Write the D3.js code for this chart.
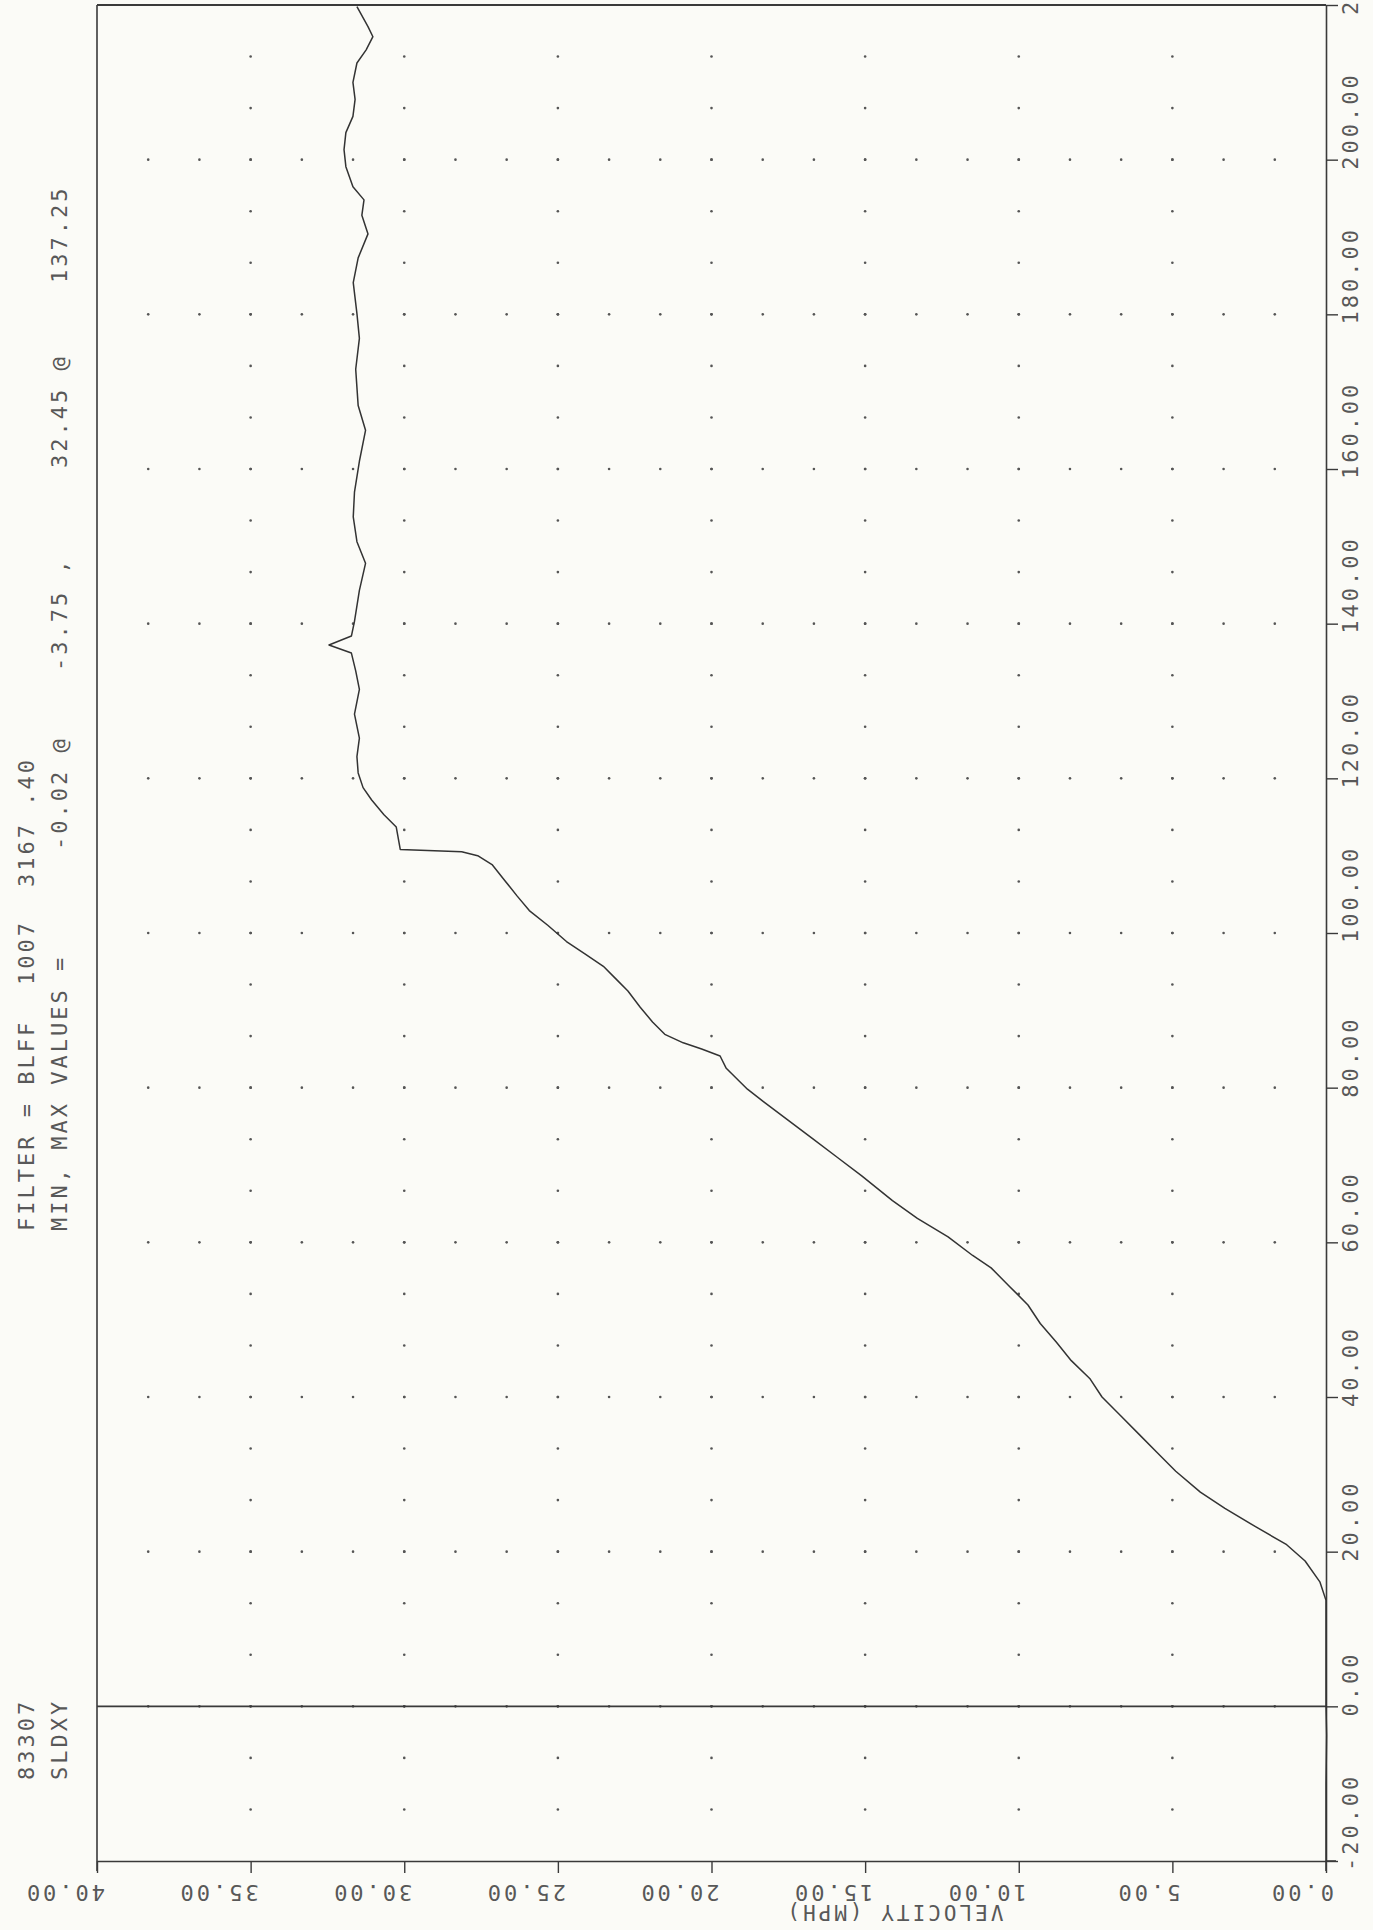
<!DOCTYPE html>
<html>
<head>
<meta charset="utf-8">
<script src="https://cdn.jsdelivr.net/npm/d3@7"></script>
<style>
  html, body { margin: 0; padding: 0; background: #fbfbf7; }
  svg { display: block; }
  .plot-text { font-family: "DejaVu Sans Mono", monospace; fill: #585858; }
</style>
</head>
<body>
<script>
// Time axis (vertical on the page) and velocity axis (horizontal, reversed)
const timeTicks = [-20, 0, 20, 40, 60, 80, 100, 120, 140, 160, 180, 200, 220];
const timeTickLabels = ["-20.00", "0.00", "20.00", "40.00", "60.00", "80.00", "100.00",
  "120.00", "140.00", "160.00", "180.00", "200.00", "220.00"];
const velocityTicks = [0, 5, 10, 15, 20, 25, 30, 35, 40];
const velocityTickLabels = ["0.00", "5.00", "10.00", "15.00", "20.00", "25.00", "30.00", "35.00", "40.00"];
const velocityTitle = "VELOCITY  (MPH)";

// Run header, printed sideways in two lines
const headerLine1 = ["83307", "FILTER = BLFF", "1007", "3167 .40"];
const headerLine2 = ["SLDXY", "MIN, MAX VALUES =", "-0.02 @", "-3.75 ,", "32.45 @", "137.25"];

// Velocity trace: time values and velocity (mph) at each time
const traceTime = [-20, -10, -3.75, 0, 8, 13.7, 16.1, 18.8, 20.9, 23.2, 25.6, 27.7, 30.4, 32.8, 35.2,
  37.6, 40.0, 42.4, 44.7, 47.1, 49.5, 51.9, 54.3, 56.7, 58.3, 60.7, 63.1, 65.4, 68.6, 71.0,
  73.4, 75.8, 78.2, 79.8, 80.9, 82.5, 84.1, 85.0, 85.8, 86.9, 88.5, 90.4, 92.5, 94.1, 95.7,
  97.3, 98.9, 101.0, 102.9, 104.8, 106.8, 108.8, 110.0, 110.5, 110.8, 113.7, 115.3, 117.2, 118.8,
  120.7, 122.8, 125.2, 128.3, 131.5, 133.9, 136.2, 137.25, 138.4, 140.3, 144.3, 147.8, 150.6, 153.8, 157.0,
  161.0, 165.0, 168.2, 172.9, 176.9, 180.1, 184.1, 187.3, 190.4, 192.8, 194.8, 196.5, 199.1,
  201.3, 203.5, 205.6, 207.8, 210.0, 212.5, 214.2, 215.9, 217.2, 219.8];
const traceVelocity = [0, 0, -0.02, 0, 0, 0, 0.2, 0.68, 1.28, 2.28, 3.29, 4.09, 4.89, 5.49, 6.09,
  6.69, 7.29, 7.69, 8.29, 8.78, 9.30, 9.70, 10.30, 10.90, 11.50, 12.30, 13.30, 14.11, 15.11, 15.91,
  16.71, 17.51, 18.31, 18.83, 19.11, 19.52, 19.72, 20.32, 20.92, 21.52, 21.92, 22.32, 22.72, 23.12, 23.52,
  24.12, 24.72, 25.33, 25.93, 26.33, 26.73, 27.13, 27.61, 28.13, 30.13, 30.26, 30.66, 31.06, 31.34,
  31.50, 31.54, 31.46, 31.62, 31.46, 31.58, 31.72, 32.45, 31.72, 31.62, 31.46, 31.26, 31.54, 31.66, 31.62,
  31.46, 31.26, 31.50, 31.58, 31.46, 31.54, 31.66, 31.50, 31.18, 31.38, 31.31, 31.67, 31.90,
  31.96, 31.90, 31.67, 31.60, 31.67, 31.54, 31.24, 31.02, 31.18, 31.54];

const W = 1373, H = 1930;
const svg = d3.select("body").append("svg").attr("width", W).attr("height", H);

const y = d3.scaleLinear().domain([-20, 220]).range([1861, 5]);
const x = d3.scaleLinear().domain([0, 40]).range([1326, 97]);

const ink = "#3a3a3a";

// Grid of plotter dots: minor time steps along each major velocity,
// minor velocity steps along each major time
const minorT = d3.range(-20, 220.001, 20 / 3);
const minorV = d3.range(0, 40.001, 5 / 3);
const dots = [];
velocityTicks.slice(1, -1).forEach(v => minorT.forEach(t => {
  if (t > -19.9 && t < 219.9) dots.push([v, t]);
}));
timeTicks.slice(1, -1).forEach(t => minorV.forEach(v => {
  if (v > 0.1 && v < 39.9) dots.push([v, t]);
}));
svg.append("g").selectAll("circle").data(dots).join("circle")
  .attr("cx", d => x(d[0])).attr("cy", d => y(d[1])).attr("r", 1.3).attr("fill", "#555");

// Frame: left edge and top edge
svg.append("line").attr("x1", x(40)).attr("x2", x(40)).attr("y1", y(220)).attr("y2", y(-20) + 10)
  .attr("stroke", ink).attr("stroke-width", 1.6);
svg.append("line").attr("x1", x(40)).attr("x2", x(0)).attr("y1", y(220)).attr("y2", y(220))
  .attr("stroke", ink).attr("stroke-width", 1.8);

// Time-zero reference line
svg.append("line").attr("x1", x(40)).attr("x2", x(0)).attr("y1", y(0)).attr("y2", y(0))
  .attr("stroke", ink).attr("stroke-width", 1.6);

// Right (time) axis
const rightAxis = svg.append("g").attr("transform", `translate(${x(0)},0)`)
  .call(d3.axisRight(y).tickValues(timeTicks).tickSize(12).tickSizeOuter(0).tickFormat(""));
// Bottom (velocity) axis
const bottomAxis = svg.append("g").attr("transform", `translate(0,${y(-20)})`)
  .call(d3.axisBottom(x).tickValues(velocityTicks).tickSize(12).tickSizeOuter(0).tickFormat(""));
[rightAxis, bottomAxis].forEach(g => {
  g.selectAll("path.domain").attr("stroke", ink).attr("stroke-width", 1.6);
  g.selectAll(".tick line").attr("stroke", ink).attr("stroke-width", 1.4);
});
// Extend axis lines slightly past the corner
svg.append("line").attr("x1", x(0)).attr("x2", x(0)).attr("y1", y(-20)).attr("y2", y(-20) + 10)
  .attr("stroke", ink).attr("stroke-width", 1.6);
svg.append("line").attr("x1", x(0)).attr("x2", x(0) + 10).attr("y1", y(-20)).attr("y2", y(-20))
  .attr("stroke", ink).attr("stroke-width", 1.6);

const fontSize = 22, spacing = 3;
const half = (fontSize * 0.602 + spacing) / 2;

// Time labels: read upward, first character on the tick
svg.append("g").selectAll("text").data(timeTicks).join("text")
  .attr("class", "plot-text")
  .attr("transform", t => `translate(${x(0) + 32},${y(t)}) rotate(-90)`)
  .attr("x", -half - 2).attr("y", 0)
  .attr("font-size", fontSize).attr("letter-spacing", spacing)
  .text((t, i) => timeTickLabels[i]);

// Velocity labels: printed upside down below the axis
svg.append("g").selectAll("text").data(velocityTicks).join("text")
  .attr("class", "plot-text")
  .attr("transform", v => `translate(${x(v)},${y(-20) + 24}) rotate(180)`)
  .attr("x", -half).attr("y", 0)
  .attr("font-size", fontSize).attr("letter-spacing", spacing)
  .text((v, i) => velocityTickLabels[i]);

// Velocity axis title, upside down
svg.append("text").attr("class", "plot-text")
  .attr("transform", `translate(${x(10.5)},${y(-20) + 44}) rotate(180)`)
  .attr("x", 0).attr("y", 0)
  .attr("font-size", fontSize - 1).attr("letter-spacing", spacing)
  .text(velocityTitle);

// Header lines, reading upward
const line1Starts = [1780, 1231, 985, 887];
const line2Starts = [1780, 1231, 850, 671, 468, 283];
function header(parts, starts, baseX) {
  svg.append("g").selectAll("text").data(parts).join("text")
    .attr("class", "plot-text")
    .attr("transform", (d, i) => `translate(${baseX},${starts[i]}) rotate(-90)`)
    .attr("font-size", fontSize).attr("letter-spacing", spacing)
    .text(d => d);
}
header(headerLine1, line1Starts, 34);
header(headerLine2, line2Starts, 67);

// Velocity trace
const trace = traceTime.map((t, i) => ({ t, v: traceVelocity[i] }));
svg.append("path").datum(trace)
  .attr("fill", "none").attr("stroke", "#333").attr("stroke-width", 1.5)
  .attr("stroke-linejoin", "round")
  .attr("d", d3.line().x(d => x(d.v)).y(d => y(d.t)));
</script>
</body>
</html>
